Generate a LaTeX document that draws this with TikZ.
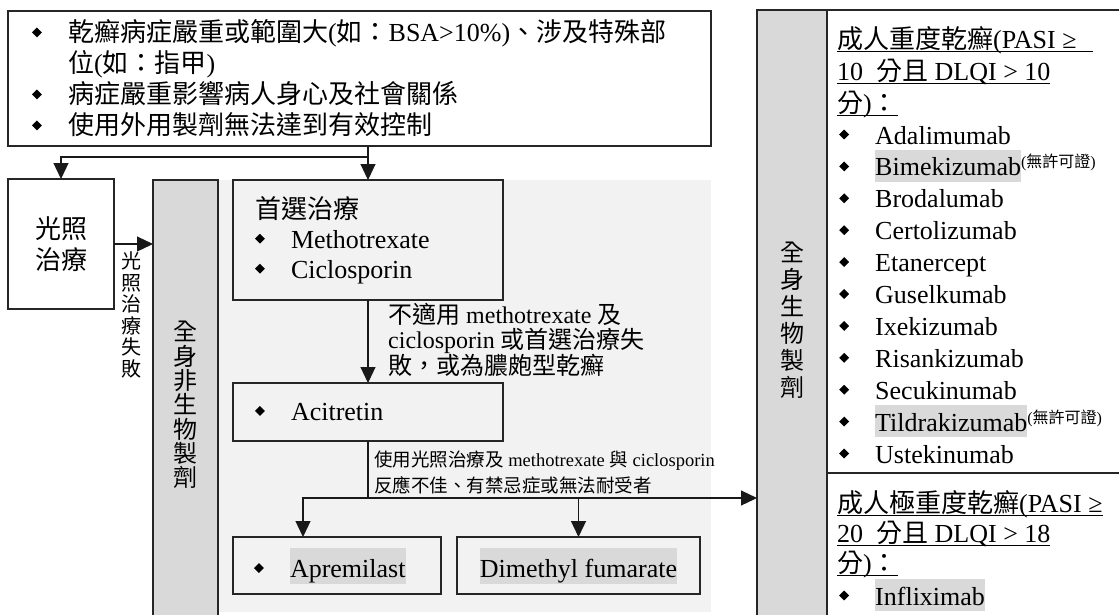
\documentclass[tikz,border=0pt]{standalone}
\usepackage{fontspec}
\setmainfont{Liberation Serif}
\newfontfamily\cjkfont{Noto Sans CJK TC}
\usetikzlibrary{arrows.meta,positioning}

% Han characters and CJK punctuation use the CJK font
\XeTeXinterchartokenstate=1
\newXeTeXintercharclass\hancls
\newcount\hanc
\def\hanrange#1#2{\hanc=#1\relax
  \loop\XeTeXcharclass\hanc=\hancls
  \ifnum\hanc<#2\advance\hanc by 1\repeat}
\hanrange{"3000}{"303F}
\hanrange{"4E00}{"9FFF}
\hanrange{"FF00}{"FFEF}
\XeTeXinterchartoks 0 \hancls = {\cjkfont}
\XeTeXinterchartoks 4095 \hancls = {\cjkfont}
\XeTeXinterchartoks \hancls 0 = {\rmfamily}
\XeTeXinterchartoks \hancls 4095 = {\rmfamily}

\definecolor{bargray}{HTML}{D9D9D9}
\definecolor{panelgray}{HTML}{F2F2F2}
\definecolor{hlgray}{HTML}{D9D9D9}

\newcommand\bul{\raisebox{6pt}{\rotatebox[origin=c]{45}{\rule{7pt}{7pt}}}}
\newcommand\itm{\makebox[36pt][l]{\bul}}
\newcommand\hl[2][32pt]{{\setlength\fboxsep{0pt}\colorbox{hlgray}{\rule[-6pt]{0pt}{#1}#2}}}
\newcommand\uln[1]{\setbox0\hbox{#1}\rlap{\rule[-4pt]{\wd0}{1.3pt}}\box0}
\newcommand\nolic{\raisebox{8pt}{\fontsize{16}{16}\selectfont(無許可證)}}

\begin{document}
\begin{tikzpicture}[x=1pt, y=-1pt,
    box/.style={draw=black!85, line width=1.2pt, outer sep=0pt, inner sep=0pt},
    arr/.style={draw=black!90, line width=1.2pt, -{Triangle[length=16pt,width=15pt]}},
    bar/.style={box, fill=bargray, anchor=north west, align=center},
    txt/.style={font=\fontsize{26}{31}\selectfont},
    item/.style={txt, anchor=base west, inner sep=0pt}]
    \useasboundingbox (0,0) rectangle (1119,614);
    \clip (0,0) rectangle (1119,614);

    % light panel behind the systemic non-biologic steps
    \fill[panelgray] (218,180) rectangle (711,612);

    % indication box
    \node[box, txt, anchor=north west, minimum width=703pt, minimum height=135pt,
        text width=655pt, inner xsep=24pt, align=left] (crit) at (8,11)
        {\itm 乾癬病症嚴重或範圍大(如：BSA>10\%)、涉及特殊部\\
         \hspace*{36pt}位(如：指甲)\\
         \itm 病症嚴重影響病人身心及社會關係\\
         \itm 使用外用製劑無法達到有效控制};

    \node[box, txt, anchor=north west, minimum width=106pt, minimum height=130pt,
        align=center] (photo) at (8,179) {光照\\治療};
    \node[bar, minimum width=65pt, minimum height=450pt,
        font=\fontsize{24}{24.3}\selectfont] (nonbio) at (153,180)
        {全\\身\\非\\生\\物\\製\\劑};
    \node[align=center, inner sep=0pt, font=\fontsize{20}{21.5}\selectfont]
        (photofail) at (131,315) {光\\照\\治\\療\\失\\敗};

    \node[box, anchor=north west, minimum width=270pt, minimum height=120pt,
        text width=226pt, inner xsep=22pt, align=left,
        font=\fontsize{26}{30}\selectfont] (first) at (233,180)
        {首選治療\\\itm Methotrexate\\\itm Ciclosporin};
    \node[box, txt, anchor=north west, minimum width=270pt, minimum height=58pt,
        text width=226pt, inner xsep=22pt, align=left] (aci) at (233,383)
        {\itm Acitretin};
    \node[anchor=west, align=left, inner sep=0pt, font=\fontsize{24}{25}\selectfont]
        (nofirst) at (388,340)
        {不適用 methotrexate 及\\ciclosporin 或首選治療失\\敗，或為膿皰型乾癬};

    \node[box, txt, anchor=north west, minimum width=208pt, minimum height=57pt,
        text width=166pt, inner xsep=21pt, align=left] (apr) at (233,537)
        {\itm\hl[36pt]{Apremilast}};
    \node[box, txt, anchor=north west, minimum width=243pt, minimum height=57pt,
        align=center] (dmf) at (457,537) {\hl[36pt]{Dimethyl fumarate}};
    \node[anchor=west, align=left, inner sep=0pt, font=\fontsize{18.5}{26}\selectfont]
        (noresp) at (374,472)
        {使用光照治療及 methotrexate 與 ciclosporin\\反應不佳、有禁忌症或無法耐受者};

    % biologics
    \node[box, anchor=north west, minimum width=320pt, minimum height=463pt] (sev) at (827,10) {};
    \node[box, anchor=north west, minimum width=320pt, minimum height=160pt] (vsev) at (827,473) {};
    \node[bar, minimum width=70pt, minimum height=620pt,
        font=\fontsize{24}{27}\selectfont] (bio) at (757,10)
        {全\\身\\生\\物\\製\\劑};

    \node[item] (sevh1) at (837,48) {\uln{成人重度乾癬(PASI ≥\hspace{16pt}}};
    \node[item] (sevh2) at (837,80) {\uln{10\ \ 分且 DLQI > 10}};
    \node[item] (sevh3) at (837,112) {\uln{分)：}};
    \foreach \drug [count=\i] in {Adalimumab, \hl{Bimekizumab}\nolic, Brodalumab,
        Certolizumab, Etanercept, Guselkumab, Ixekizumab, Risankizumab,
        Secukinumab, \hl{Tildrakizumab}\nolic, Ustekinumab}
        \node[item] (drug\i) at (839,{144+31.9*(\i-1)}) {\itm\drug};

    \node[item] (vsevh1) at (837,512) {\uln{成人極重度乾癬(PASI ≥}};
    \node[item] (vsevh2) at (837,542) {\uln{20\ \ 分且 DLQI > 18}};
    \node[item] (vsevh3) at (837,572) {\uln{分)：}};
    \node[item] (drug12) at (839,605) {\itm\hl{Infliximab}};

    % connectors
    \coordinate (fork) at (first.north |- 0,157);
    \draw[arr] (crit.south -| first.north) -- (first.north);
    \draw[arr] (fork) -| (photo.north);
    \draw[arr] (photo.east) -- (photo.east -| nonbio.west);
    \draw[arr] (first.south) -- (aci.north);
    \coordinate (split) at (aci.south |- 0,498);
    \draw[line width=1.2pt, black!90] (aci.south) -- (split);
    \draw[arr] (split) -| ([xshift=70pt]apr.north west);
    \draw[arr] (split) -| (dmf.north);
    \draw[arr] (split) -- (split -| bio.west);
\end{tikzpicture}
\end{document}
